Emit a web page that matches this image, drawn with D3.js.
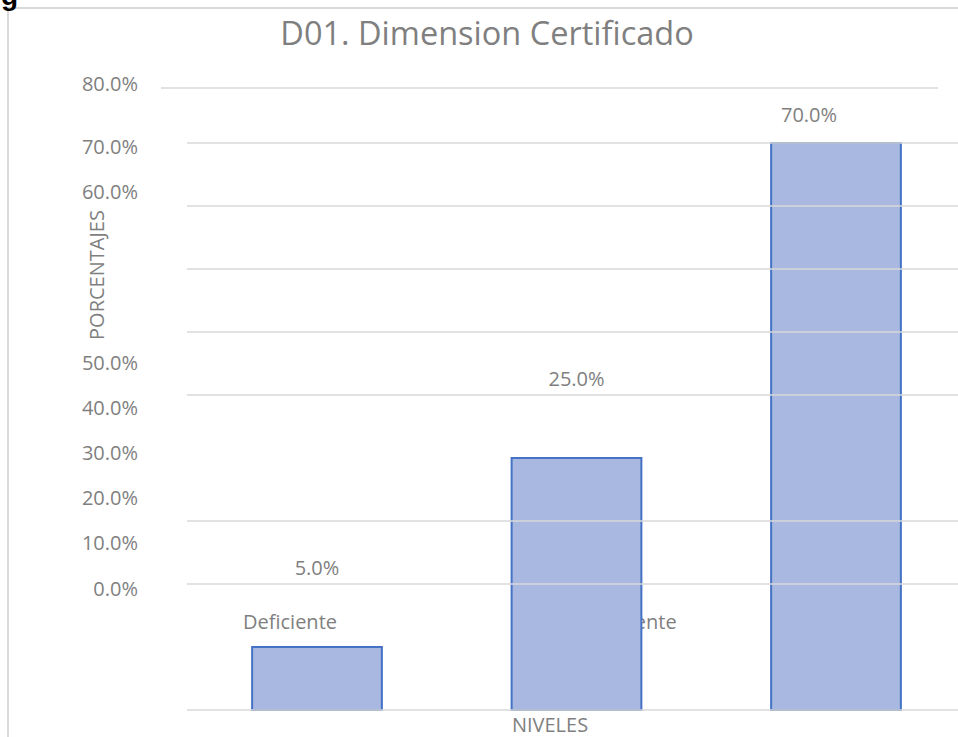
<!DOCTYPE html>
<html>
<head>
<meta charset="utf-8">
<script src="https://cdn.jsdelivr.net/npm/d3@7"></script>
<style>
  body { margin: 0; background: #fff; overflow: hidden; }
  text { font-family: "Open Sans", sans-serif; fill: #7f7f7f; }
</style>
</head>
<body>
<div id="chart"></div>
<script>
const width = 958;
const height = 737;

// data
const categories = ["Deficiente", "Eficiente", "Muy eficiente"];
const percents = [0.05, 0.25, 0.70];
// bar heights as drawn, counted in gridline steps
const barSteps = [1, 4, 9];
const tickValues = [0, 0.1, 0.2, 0.3, 0.4, 0.5, 0.6, 0.7, 0.8];
const gridSteps = [2, 3, 5, 6, 7, 8, 9];

const svg = d3.select("#chart").append("svg")
    .attr("width", width)
    .attr("height", height);

// chart frame
svg.append("rect")
    .attr("x", 8).attr("y", 8)
    .attr("width", width + 20).attr("height", height + 20)
    .attr("fill", "none")
    .attr("stroke", "#d9d9d9")
    .attr("stroke-width", 2);

// leftover caption glyph above the frame
svg.append("text")
    .attr("x", 1).attr("y", 5)
    .style("font-family", "Liberation Sans, sans-serif")
    .style("font-weight", "bold")
    .style("font-size", "28px")
    .style("fill", "#000")
    .text("g");

const fmt = d3.format(".1%");

// scales
const x = d3.scaleBand()
    .domain(categories)
    .range([187.25, 965.75])
    .paddingInner(0.5)
    .paddingOuter(0.25);

const xLabel = d3.scaleBand()
    .domain(categories)
    .range([116.5, 1157.5]);

const yStep = d3.scaleLinear().domain([0, 9]).range([710, 143]);

// the tick labels do not sit on the gridlines
const yTick = d3.scaleLinear()
    .domain([0, 0.5, 0.6, 0.7, 0.8])
    .range([595.5, 369.5, 199, 153.5, 90.5]);

// title
svg.append("text")
    .attr("x", 487)
    .attr("y", 45)
    .attr("text-anchor", "middle")
    .style("font-size", "32.5px")
    .text("D01. Dimension Certificado");

// y tick labels
svg.append("g")
    .selectAll("text")
    .data(tickValues)
    .join("text")
    .attr("x", 138)
    .attr("y", d => yTick(d))
    .attr("text-anchor", "end")
    .style("font-size", "20px")
    .text(d => fmt(d));

// axis titles
svg.append("text")
    .attr("transform", "translate(104,275) rotate(-90)")
    .attr("text-anchor", "middle")
    .style("font-size", "20px")
    .text("PORCENTAJES");

svg.append("text")
    .attr("x", 550)
    .attr("y", 732)
    .attr("text-anchor", "middle")
    .style("font-size", "20px")
    .text("NIVELES");

// category labels (sit behind the bars); drop any that run past the frame
const catLabels = svg.append("g")
    .selectAll("text")
    .data(categories)
    .join("text")
    .attr("x", d => xLabel(d) + xLabel.bandwidth() / 2)
    .attr("y", 629)
    .attr("text-anchor", "middle")
    .style("font-size", "20px")
    .text(d => d);

catLabels.filter(function() {
    const b = this.getBBox();
    return b.x + b.width > width;
}).remove();

// bars
svg.append("g")
    .selectAll("rect")
    .data(categories)
    .join("rect")
    .attr("x", d => x(d))
    .attr("y", (d, i) => yStep(barSteps[i]))
    .attr("width", x.bandwidth())
    .attr("height", (d, i) => yStep(0) - yStep(barSteps[i]))
    .attr("fill", "#a9b8e0")
    .attr("stroke", "#4472c4")
    .attr("stroke-width", 2);

// gridlines drawn over the bars
const grid = svg.append("g")
    .attr("stroke", "#d9d9d9")
    .attr("stroke-width", 1.6);

grid.selectAll("line.g")
    .data([0].concat(gridSteps))
    .join("line")
    .attr("class", "g")
    .attr("x1", 187).attr("x2", width)
    .attr("y1", d => yStep(d)).attr("y2", d => yStep(d));

grid.append("line")
    .attr("x1", 161).attr("x2", 938)
    .attr("y1", 88).attr("y2", 88);

// value labels
const lift = [72, 72, 21];
const shift = [0, 0, -27];
svg.append("g")
    .selectAll("text")
    .data(percents)
    .join("text")
    .attr("x", (d, i) => x(categories[i]) + x.bandwidth() / 2 + shift[i])
    .attr("y", (d, i) => yStep(barSteps[i]) - lift[i])
    .attr("text-anchor", "middle")
    .style("font-size", "20px")
    .text(d => fmt(d));
</script>
</body>
</html>
